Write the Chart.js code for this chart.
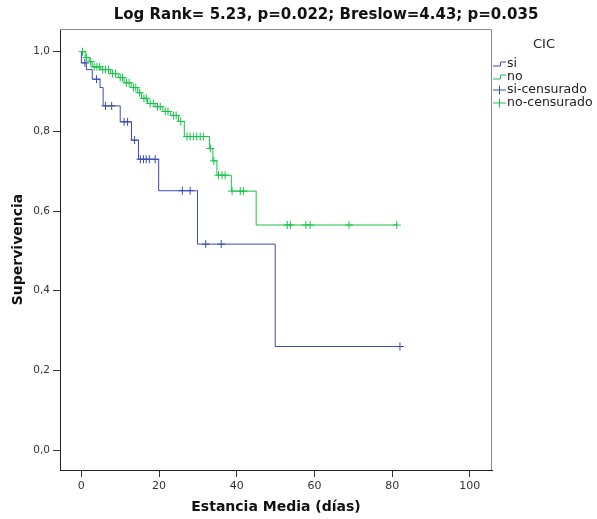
<!DOCTYPE html>
<html>
<head>
<meta charset="utf-8">
<script src="https://cdn.jsdelivr.net/npm/chart.js@4"></script>
<style>
  html, body { margin: 0; padding: 0; background: #fff; }
  #wrap { width: 597px; height: 519px; position: relative; }
</style>
</head>
<body>
<div id="wrap"><canvas id="km"></canvas></div>
<script>
const BLUE  = '#3b4cb0';
const GREEN = '#16c448';

// CIC = si : step times and survival after each step
const siTimes = [0, 0, 1.3, 2.8, 4.8, 5.6, 10, 12.9, 14.7, 19.9, 29.9, 49.9, 82];
const siSurv  = [1.0, 0.972, 0.955, 0.931, 0.91, 0.864, 0.824, 0.778, 0.73, 0.651, 0.517, 0.26, 0.26];
const siCens  = [0.9, 3.9, 6.2, 7.8, 11, 11.9, 13.7, 15.2, 16, 16.7, 17.5, 19, 26, 28, 32, 36, 82];

// CIC = no
const noTimes = [0, 1, 2, 2.8, 5, 7.5, 9.5, 11, 12.8, 14.5, 15.5, 17, 19, 21, 23, 25, 26.5, 33, 33.85, 34.9, 38.6, 45, 81.2];
const noSurv  = [1.0, 0.985, 0.975, 0.962, 0.955, 0.945, 0.935, 0.922, 0.91, 0.897, 0.883, 0.87, 0.862, 0.85, 0.84, 0.825, 0.787, 0.757, 0.726, 0.69, 0.65, 0.565, 0.565];
const noCens  = [0.3, 1.3, 2.4, 3.3, 4, 4.7, 5.5, 6.2, 7, 8, 8.8, 10, 10.6, 11.6, 12.3, 13.4, 14, 15, 16.1, 16.7, 17.7, 18.5, 19.6, 20.3, 21.6, 22.3, 23.7, 24.4, 25.6,
                 27.2, 28, 28.9, 29.7, 30.6, 31.4, 33.2, 34.1, 35.3, 36.2, 37, 38.8, 40.9, 41.7, 53, 53.8, 57.8, 58.9, 68.9, 81.2];

const xTicks = [0, 20, 40, 60, 80, 100];
const yTicks = [0, 0.2, 0.4, 0.6, 0.8, 1.0];

const titulo = 'Log Rank= 5.23, p=0.022; Breslow=4.43; p=0.035';
const leyenda = ['si', 'no', 'si-censurado', 'no-censurado'];

const pts = (ts, ss) => ts.map((t, i) => ({ x: t, y: ss[i] }));
// censored cases sit on the curve at their time
function enCurva(ts, ss, cs) {
  return cs.map(c => {
    let k = 0;
    for (let i = 0; i < ts.length; i++) if (ts[i] <= c) k = i;
    return { x: c, y: ss[k] };
  });
}

const marco = {
  id: 'marco',
  afterDraw(chart) {
    const { ctx, chartArea: a } = chart;
    ctx.save();
    // top and right edges of the plot box
    ctx.strokeStyle = '#8a8a8a';
    ctx.lineWidth = 1;
    ctx.beginPath();
    ctx.moveTo(a.left, a.top + 0.5);
    ctx.lineTo(a.right - 0.5, a.top + 0.5);
    ctx.lineTo(a.right - 0.5, a.bottom);
    ctx.stroke();

    ctx.fillStyle = '#111';
    ctx.font = 'bold 15px "DejaVu Sans"';
    ctx.textAlign = 'center';
    ctx.textBaseline = 'middle';
    ctx.fillText(titulo, 326, 15);

    // legend
    ctx.font = '13px "DejaVu Sans"';
    ctx.fillStyle = '#222';
    ctx.fillText('CIC', 544, 45);
    ctx.textAlign = 'left';
    ctx.font = '12.5px "DejaVu Sans"';
    const x0 = 493, x1 = 506;
    leyenda.forEach((txt, i) => {
      const y = 63.5 + i * 13;
      const col = i % 2 === 0 ? BLUE : GREEN;
      ctx.strokeStyle = col;
      ctx.beginPath();
      if (i < 2) {
        ctx.moveTo(x0, y + 2.5);
        ctx.lineTo(x0 + 7.5, y + 2.5);
        ctx.lineTo(x0 + 7.5, y - 1.5);
        ctx.lineTo(x1, y - 1.5);
      } else {
        ctx.moveTo(x0, y + 0.5);
        ctx.lineTo(x1, y + 0.5);
        ctx.moveTo(x0 + 6.5, y - 4);
        ctx.lineTo(x0 + 6.5, y + 5);
      }
      ctx.stroke();
      ctx.fillStyle = '#222';
      ctx.fillText(txt, x1 + 1, y);
    });
    ctx.restore();
  }
};

new Chart(document.getElementById('km'), {
  type: 'scatter',
  data: {
    datasets: [
      { label: 'no-censurado', data: enCurva(noTimes, noSurv, noCens), pointStyle: 'cross', pointRadius: 4, borderColor: GREEN, borderWidth: 1, order: 0 },
      { label: 'no', data: pts(noTimes, noSurv), showLine: true, stepped: 'before', pointRadius: 0, borderColor: GREEN, borderWidth: 1, order: 1 },
      { label: 'si-censurado', data: enCurva(siTimes, siSurv, siCens), pointStyle: 'cross', pointRadius: 4, borderColor: BLUE, borderWidth: 1, order: 2 },
      { label: 'si', data: pts(siTimes, siSurv), showLine: true, stepped: 'before', pointRadius: 0, borderColor: BLUE, borderWidth: 1, order: 3 }
    ]
  },
  options: {
    responsive: true,
    maintainAspectRatio: false,
    animation: false,
    events: [],
    layout: { padding: { top: 29, right: 105, left: 0, bottom: 0 } },
    plugins: { legend: { display: false }, tooltip: { enabled: false } },
    scales: {
      x: {
        type: 'linear', min: -5.5, max: 105.7,
        afterBuildTicks: s => { s.ticks = xTicks.map(v => ({ value: v })); },
        afterFit: s => { s.height = 49; },
        grid: { drawOnChartArea: false, tickLength: 7, color: '#333' },
        border: { color: '#222' },
        ticks: { padding: 3, color: '#333', font: { family: 'DejaVu Sans', size: 11 }, maxRotation: 0 },
        title: { display: true, text: 'Estancia Media (días)', color: '#111', padding: { bottom: 3 }, font: { family: 'DejaVu Sans', size: 14, weight: 'bold' } }
      },
      y: {
        min: -0.05, max: 1.057,
        afterBuildTicks: s => { s.ticks = yTicks.map(v => ({ value: v })); },
        afterFit: s => { s.width = 60; },
        grid: { drawOnChartArea: false, tickLength: 7, color: '#333' },
        border: { color: '#222' },
        ticks: { padding: 3, color: '#333', font: { family: 'DejaVu Sans', size: 10.5 }, callback: v => v.toFixed(1).replace('.', ',') },
        title: { display: true, text: 'Supervivencia', color: '#111', padding: { top: 10 }, font: { family: 'DejaVu Sans', size: 14, weight: 'bold' } }
      }
    }
  },
  plugins: [marco]
});
</script>
</body>
</html>
